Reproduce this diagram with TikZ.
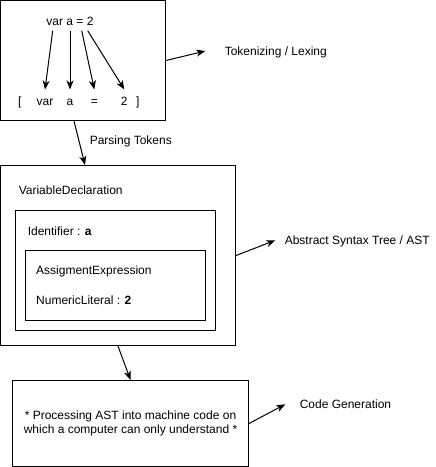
\documentclass[tikz,border=0pt]{standalone}
\usepackage{fontspec}
\setmainfont{Liberation Sans}
\usetikzlibrary{arrows.meta}
\begin{document}
\begin{tikzpicture}[x=1pt, y=-1pt, line width=1pt,
                  every node/.style={font=\fontsize{12pt}{13.5pt}\selectfont},
                  boite/.style={draw, minimum width=#1, inner sep=0pt},
                  lbl/.style={anchor=west, inner sep=0pt, text height=8pt, text depth=0pt},
                  tok/.style={anchor=base, inner xsep=0pt, inner ysep=6pt, text height=9pt, text depth=0pt},
                  arr/.style={-{Stealth[length=9pt, width=7pt, inset=2.5pt]}}]
\useasboundingbox (0,0) rectangle (436,467);
\node[boite=165pt, minimum height=120pt] (lex) at (83,60.5) {};
\node[boite=235pt, minimum height=180pt] (ast) at (118,255.5) {};
\node[boite=200pt, minimum height=120pt] (ident) at (115.5,270.5) {};
\node[boite=180pt, minimum height=70pt] (assign) at (115.5,285.5) {};
\node[boite=236pt, minimum height=86pt, align=center] (gen) at (130.5,423.5)
     {* Processing AST into machine code on\\which a computer can only understand *};
\node (src) at (70,21) {var a = 2};
\node[lbl] (lb) at (17.5,101) {[};
\node[lbl] (rb) at (135.5,101) {]};
\foreach \i/\x/\v in {1/45/var, 2/70/a, 3/94.3/=, 4/124.3/2}
  {\node[tok] (t\i) at (\x,105) {\v};};
\foreach \i/\x in {1/52.7, 2/70, 3/81.7, 4/87.7}
  {\coordinate (s\i) at (\x,30.7);
   \draw[arr] (s\i) -- (t\i.north);};
\node[lbl] (vardecl) at (18.3,190.7) {VariableDeclaration};
\node[lbl] (ident lbl) at (27.3,231) {Identifier : \textbf{a}};
\node[lbl] (assign lbl) at (35.7,270.7) {AssigmentExpression};
\node[lbl] (num lbl) at (35.7,300.7) {NumericLiteral : \textbf{2}};
\node[lbl] (lexing) at (224.3,51) {Tokenizing / Lexing};
\node[lbl] (parsing) at (89.3,140.7) {Parsing Tokens};
\node[lbl] (tree) at (284.3,240.3) {Abstract Syntax Tree / AST};
\node[lbl] (codegen) at (299.3,404.3) {Code Generation};
\draw[arr] (lex.east) -- ([xshift=-19pt]lexing.west);
\draw[arr] ([xshift=-9pt]lex.south) -- ([xshift=-33pt]ast.north);
\draw[arr] (ast.east) -- ([xshift=-9pt]tree.west);
\draw[arr] (ast.south) -- (gen.north);
\draw[arr] (gen.east) -- ([xshift=-14pt]codegen.west);
\end{tikzpicture}
\end{document}
